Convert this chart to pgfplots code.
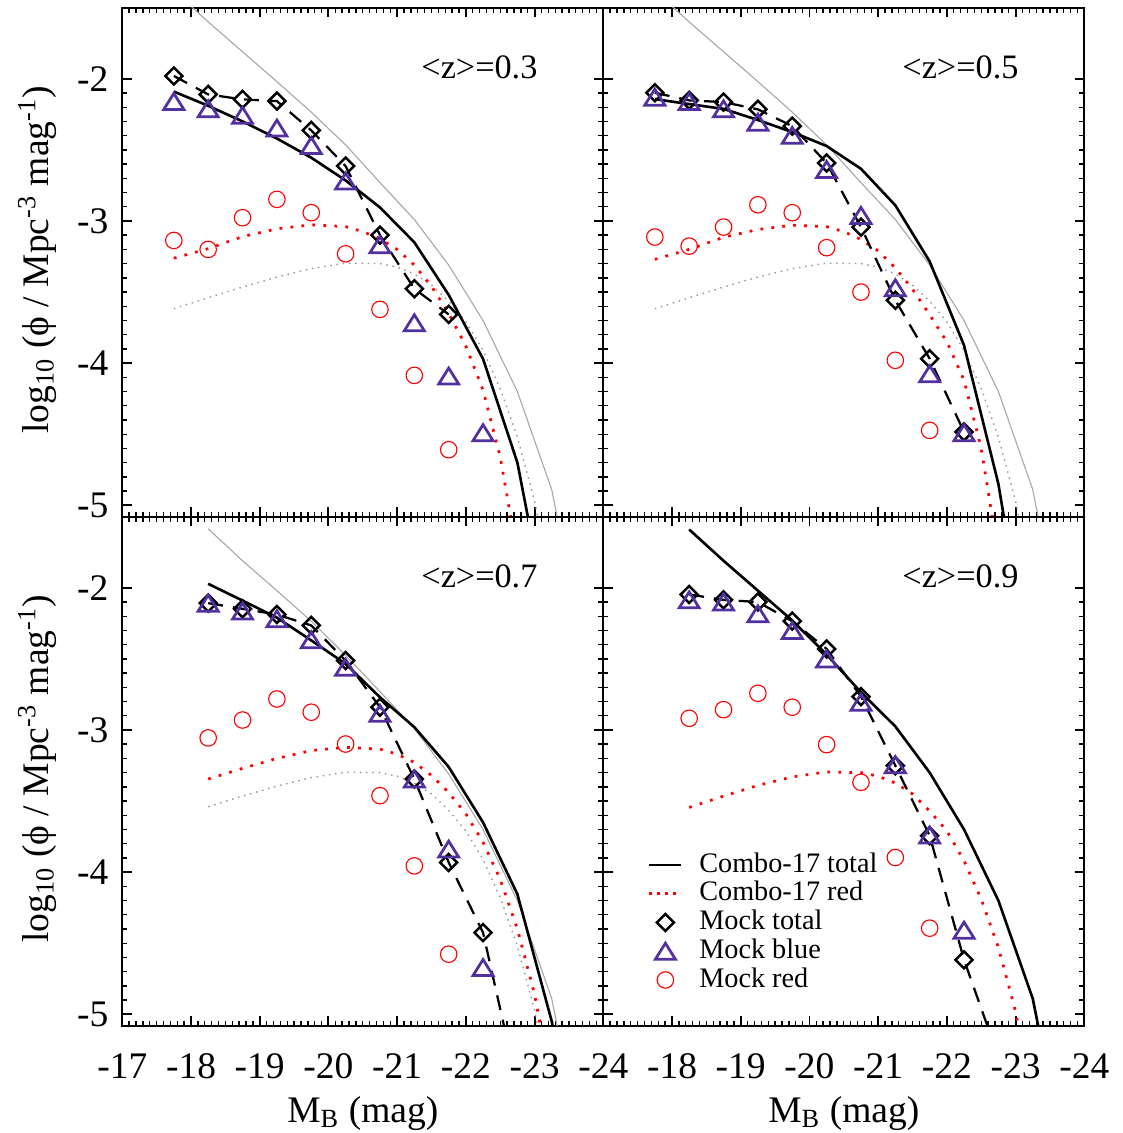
\documentclass[border=0pt]{standalone}
\usepackage{fontspec}
\setmainfont{Liberation Serif}
\usepackage{pgfplots}
\pgfplotsset{compat=1.18}

\definecolor{idlpurple}{RGB}{82,48,160}
\definecolor{lfgray}{RGB}{168,168,168}
\definecolor{lfgraydot}{RGB}{150,150,150}

% open diamond and IDL-style open triangle
\pgfdeclareplotmark{idldiamond}{%
  \pgfpathmoveto{\pgfqpoint{0pt}{\pgfplotmarksize}}%
  \pgfpathlineto{\pgfqpoint{\pgfplotmarksize}{0pt}}%
  \pgfpathlineto{\pgfqpoint{0pt}{-\pgfplotmarksize}}%
  \pgfpathlineto{\pgfqpoint{-\pgfplotmarksize}{0pt}}%
  \pgfpathclose
  \pgfusepathqstroke}
\pgfdeclareplotmark{idltriangle}{%
  \pgfpathmoveto{\pgfqpoint{-\pgfplotmarksize}{-.8\pgfplotmarksize}}%
  \pgfpathlineto{\pgfqpoint{0pt}{.8\pgfplotmarksize}}%
  \pgfpathlineto{\pgfqpoint{\pgfplotmarksize}{-.8\pgfplotmarksize}}%
  \pgfpathclose
  \pgfusepathqstroke}

\tikzset{zlabel/.style={anchor=base east, font=\fontsize{13.7}{16}\selectfont}}

\pgfplotsset{
  lfpanel/.style={
    scale only axis, width=192.4pt, height=203.6pt,
    xmin=-24, xmax=-17, x dir=reverse,
    ymin=-5.08, ymax=-1.5,
    xtick={-17,-18,-19,-20,-21,-22,-23,-24},
    ytick={-2,-3,-4,-5},
    minor x tick num=9, minor y tick num=9,
    tick align=inside, tick pos=both,
    major tick length=3.9pt, minor tick length=2pt,
    every major tick/.style={black, line width=0.75pt},
    every minor tick/.style={black, line width=0.55pt},
    axis line style={line width=0.9pt},
    xticklabels={}, yticklabels={},
    tick label style={font=\fontsize{15}{18}\selectfont},
    xticklabel style={inner sep=0pt, anchor=north, yshift=-11pt},
    yticklabel style={inner sep=0pt, anchor=east, xshift=-5.4pt},
    every axis y label/.style={at={(axis description cs:-0.1538,0.505)}, anchor=base,
      rotate=90, font=\fontsize{15}{18}\selectfont},
    every axis x label/.style={at={(axis description cs:0.5,-0.19)}, anchor=base,
      font=\fontsize{15}{18}\selectfont},
  },
  leftlabels/.style={
    yticklabels={-2,-3,-4,-5},
    ylabel={log\textsubscript{10} (ϕ / Mpc\textsuperscript{-3} mag\textsuperscript{-1})},
  },
  pcombototal/.style={black, line width=1.05pt},
  pcombored/.style={red, line width=1.1pt, dash pattern=on 1.1pt off 3.3pt},
  prefsolid/.style={lfgray, line width=0.45pt},
  prefdot/.style={lfgraydot, line width=0.55pt, dash pattern=on 0.6pt off 1.9pt},
  pmocktotal/.style={black, line width=0.9pt, dash pattern=on 6pt off 4pt,
    mark=idldiamond, mark size=3.4pt, mark options={solid, line width=1pt}},
  pmockblue/.style={only marks, idlpurple, mark=idltriangle, mark size=4pt,
    mark options={line width=1.1pt}},
  pmockred/.style={only marks, red, mark=o, mark size=3.3pt,
    mark options={line width=0.45pt}},
  mylegend/.style={legend image code/.code={\draw[mark repeat=2,mark phase=2,##1]
    plot coordinates {(0pt,0pt) (6.4pt,0pt) (12.8pt,0pt)};}},
}

\begin{document}
\begin{tikzpicture}
\useasboundingbox (0pt,0pt) rectangle (449.2pt,453.2pt);

% ---------------- <z> = 0.3 ----------------
\begin{axis}[lfpanel, leftlabels, at={(48.92pt,246.52pt)}, anchor=south west]
\addplot[prefsolid] coordinates {(-17.75,-1.38) (-18.25,-1.60) (-18.75,-1.81) (-19.25,-2.02) (-19.75,-2.235) (-20.25,-2.465) (-20.75,-2.73) (-21.25,-2.99) (-21.75,-3.31) (-22.25,-3.70) (-22.75,-4.20) (-23.25,-4.89) (-23.75,-6.1)};
\addplot[prefdot] coordinates {(-17.75,-3.617) (-18.25,-3.54) (-18.75,-3.465) (-19.25,-3.395) (-19.75,-3.335) (-20.25,-3.297) (-20.75,-3.30) (-21.0,-3.325) (-21.25,-3.373) (-21.5,-3.45) (-21.75,-3.565) (-22.0,-3.71) (-22.25,-3.91) (-22.5,-4.18) (-22.75,-4.52) (-23.0,-4.97) (-23.25,-5.6)};
\addplot[pcombototal] coordinates {(-17.75,-2.09) (-18.25,-2.19) (-18.75,-2.30) (-19.25,-2.42) (-19.75,-2.555) (-20.25,-2.715) (-20.75,-2.905) (-21.25,-3.15) (-21.75,-3.52) (-22.25,-3.97) (-22.75,-4.70) (-23.25,-5.95)};
\addplot[pcombored] coordinates {(-17.75,-3.262) (-18.25,-3.195) (-18.75,-3.11) (-19.25,-3.055) (-19.75,-3.027) (-20.25,-3.04) (-20.5,-3.075) (-20.75,-3.125) (-21.0,-3.20) (-21.25,-3.31) (-21.5,-3.46) (-21.75,-3.65) (-22.0,-3.88) (-22.25,-4.19) (-22.5,-4.66) (-22.75,-5.35)};
\addplot[pmocktotal] coordinates {(-17.75,-1.98) (-18.25,-2.11) (-18.75,-2.145) (-19.25,-2.157) (-19.75,-2.363) (-20.25,-2.614) (-20.75,-3.10) (-21.25,-3.477) (-21.75,-3.657)};
\addplot[pmockblue] coordinates {(-17.75,-2.159) (-18.25,-2.211) (-18.75,-2.257) (-19.25,-2.347) (-19.75,-2.469) (-20.25,-2.719) (-20.75,-3.167) (-21.25,-3.716) (-21.75,-4.091) (-22.25,-4.489)};
\addplot[pmockred] coordinates {(-17.75,-3.137) (-18.25,-3.20) (-18.75,-2.977) (-19.25,-2.848) (-19.75,-2.942) (-20.25,-3.231) (-20.75,-3.622) (-21.25,-4.086) (-21.75,-4.609)};
\node[zlabel] at (axis cs:-23.17,-2.0) {<z>=0.3};
\end{axis}

% ---------------- <z> = 0.5 ----------------
\begin{axis}[lfpanel, at={(241.32pt,246.52pt)}, anchor=south west]
\addplot[prefsolid] coordinates {(-17.75,-1.38) (-18.25,-1.60) (-18.75,-1.81) (-19.25,-2.02) (-19.75,-2.235) (-20.25,-2.465) (-20.75,-2.73) (-21.25,-2.99) (-21.75,-3.31) (-22.25,-3.70) (-22.75,-4.20) (-23.25,-4.89) (-23.75,-6.1)};
\addplot[prefdot] coordinates {(-17.75,-3.617) (-18.25,-3.54) (-18.75,-3.465) (-19.25,-3.395) (-19.75,-3.335) (-20.25,-3.297) (-20.75,-3.30) (-21.0,-3.325) (-21.25,-3.373) (-21.5,-3.45) (-21.75,-3.565) (-22.0,-3.71) (-22.25,-3.91) (-22.5,-4.18) (-22.75,-4.52) (-23.0,-4.97) (-23.25,-5.6)};
\addplot[pcombototal] coordinates {(-17.75,-2.143) (-18.25,-2.178) (-18.75,-2.212) (-19.25,-2.29) (-19.75,-2.375) (-20.25,-2.473) (-20.75,-2.633) (-21.25,-2.89) (-21.75,-3.285) (-22.25,-3.875) (-22.75,-4.85) (-23.25,-6.3)};
\addplot[pcombored] coordinates {(-17.75,-3.27) (-18.25,-3.20) (-18.75,-3.115) (-19.25,-3.06) (-19.75,-3.03) (-20.25,-3.04) (-20.5,-3.075) (-20.75,-3.13) (-21.0,-3.21) (-21.25,-3.33) (-21.5,-3.48) (-21.75,-3.66) (-22.0,-3.85) (-22.25,-4.12) (-22.5,-4.60) (-22.75,-5.35)};
\addplot[pmocktotal] coordinates {(-17.75,-2.098) (-18.25,-2.152) (-18.75,-2.164) (-19.25,-2.215) (-19.75,-2.333) (-20.25,-2.593) (-20.75,-3.043) (-21.25,-3.558) (-21.75,-3.969) (-22.25,-4.484)};
\addplot[pmockblue] coordinates {(-17.75,-2.129) (-18.25,-2.159) (-18.75,-2.211) (-19.25,-2.305) (-19.75,-2.398) (-20.25,-2.638) (-20.75,-2.961) (-21.25,-3.470) (-21.75,-4.075) (-22.25,-4.489)};
\addplot[pmockred] coordinates {(-17.75,-3.113) (-18.25,-3.177) (-18.75,-3.043) (-19.25,-2.886) (-19.75,-2.942) (-20.25,-3.188) (-20.75,-3.50) (-21.25,-3.98) (-21.75,-4.473)};
\node[zlabel] at (axis cs:-23.17,-2.0) {<z>=0.5};
\end{axis}

% ---------------- <z> = 0.7 ----------------
\begin{axis}[lfpanel, leftlabels, at={(48.92pt,42.92pt)}, anchor=south west,
  xticklabels={-17,-18,-19,-20,-21,-22,-23,-24},
  xlabel={M\textsubscript{B} (mag)}]
\addplot[prefsolid] coordinates {(-18.25,-1.585) (-18.75,-1.81) (-19.25,-2.02) (-19.75,-2.235) (-20.25,-2.475) (-20.75,-2.73) (-21.25,-2.99) (-21.75,-3.31) (-22.25,-3.70) (-22.75,-4.20) (-23.25,-4.89) (-23.75,-6.1)};
\addplot[prefdot] coordinates {(-18.25,-3.54) (-18.75,-3.465) (-19.25,-3.395) (-19.75,-3.335) (-20.25,-3.297) (-20.75,-3.30) (-21.0,-3.325) (-21.25,-3.373) (-21.5,-3.45) (-21.75,-3.565) (-22.0,-3.71) (-22.25,-3.91) (-22.5,-4.18) (-22.75,-4.52) (-23.0,-4.97) (-23.25,-5.6)};
\addplot[pcombototal] coordinates {(-18.25,-1.972) (-18.75,-2.09) (-19.25,-2.21) (-19.75,-2.37) (-20.25,-2.535) (-20.75,-2.77) (-21.25,-2.98) (-21.75,-3.26) (-22.25,-3.65) (-22.75,-4.155) (-23.25,-5.05) (-23.75,-6.3)};
\addplot[pcombored] coordinates {(-18.25,-3.345) (-18.75,-3.27) (-19.25,-3.20) (-19.75,-3.145) (-20.25,-3.122) (-20.75,-3.135) (-21.0,-3.17) (-21.25,-3.228) (-21.5,-3.32) (-21.75,-3.44) (-22.0,-3.59) (-22.25,-3.79) (-22.5,-4.05) (-22.75,-4.40) (-23.0,-4.86) (-23.25,-5.5)};
\addplot[pmocktotal] coordinates {(-18.25,-2.108) (-18.75,-2.148) (-19.25,-2.188) (-19.75,-2.265) (-20.25,-2.512) (-20.75,-2.840) (-21.25,-3.345) (-21.75,-3.932) (-22.25,-4.425) (-22.75,-5.5)};
\addplot[pmockblue] coordinates {(-18.25,-2.108) (-18.75,-2.164) (-19.25,-2.218) (-19.75,-2.366) (-20.25,-2.559) (-20.75,-2.883) (-21.25,-3.345) (-21.75,-3.838) (-22.25,-4.671)};
\addplot[pmockred] coordinates {(-18.25,-3.056) (-18.75,-2.930) (-19.25,-2.782) (-19.75,-2.875) (-20.25,-3.099) (-20.75,-3.462) (-21.25,-3.956) (-21.75,-4.577)};
\node[zlabel] at (axis cs:-23.17,-2.0) {<z>=0.7};
\end{axis}

% ---------------- <z> = 0.9 ----------------
\begin{axis}[lfpanel, at={(241.32pt,42.92pt)}, anchor=south west,
  xticklabels={,-18,-19,-20,-21,-22,-23,-24},
  xlabel={M\textsubscript{B} (mag)},
  legend style={draw=none, fill=none, inner sep=0pt, outer sep=0pt,
    at={(axis description cs:0.093,0.344)}, anchor=north west,
    font=\fontsize{11.3}{13}\selectfont, row sep=0pt,
    nodes={inner sep=0pt, text height=8.6pt, text depth=2.9pt},
    /tikz/every odd column/.append style={column sep=6.6pt}},
  legend cell align=left]
\addlegendimage{black, line width=1.05pt, mylegend}
\addlegendentry{Combo-17 total}
\addlegendimage{red, line width=1.1pt, dash pattern=on 1.1pt off 2.1pt, mylegend}
\addlegendentry{Combo-17 red}
\addlegendimage{only marks, black, mark=idldiamond, mark size=3.4pt, line width=1pt, mylegend}
\addlegendentry{Mock total}
\addlegendimage{only marks, idlpurple, mark=idltriangle, mark size=4pt, line width=1.1pt, mylegend}
\addlegendentry{Mock blue}
\addlegendimage{only marks, red, mark=o, mark size=3.3pt, line width=0.45pt, mylegend}
\addlegendentry{Mock red}
\addplot[pcombototal, forget plot] coordinates {(-18.25,-1.59) (-18.75,-1.81) (-19.25,-2.02) (-19.75,-2.23) (-20.25,-2.47) (-20.75,-2.735) (-21.25,-2.975) (-21.75,-3.30) (-22.25,-3.70) (-22.75,-4.20) (-23.25,-4.89) (-23.75,-6.1)};
\addplot[pcombored, forget plot] coordinates {(-18.25,-3.545) (-18.75,-3.465) (-19.25,-3.39) (-19.75,-3.33) (-20.25,-3.295) (-20.75,-3.30) (-21.0,-3.325) (-21.25,-3.373) (-21.5,-3.45) (-21.75,-3.57) (-22.0,-3.71) (-22.25,-3.92) (-22.5,-4.19) (-22.75,-4.53) (-23.0,-4.98) (-23.25,-5.6)};
\addplot[pmocktotal, forget plot] coordinates {(-18.25,-2.047) (-18.75,-2.085) (-19.25,-2.10) (-19.75,-2.235) (-20.25,-2.43) (-20.75,-2.765) (-21.25,-3.251) (-21.75,-3.744) (-22.25,-4.617) (-22.75,-5.3)};
\addplot[pmockblue, forget plot] coordinates {(-18.25,-2.085) (-18.75,-2.10) (-19.25,-2.183) (-19.75,-2.30) (-20.25,-2.50) (-20.75,-2.805) (-21.25,-3.244) (-21.75,-3.739) (-22.25,-4.408)};
\addplot[pmockred, forget plot] coordinates {(-18.25,-2.918) (-18.75,-2.857) (-19.25,-2.742) (-19.75,-2.840) (-20.25,-3.103) (-20.75,-3.368) (-21.25,-3.897) (-21.75,-4.394) (-22.25,-5.11)};
\node[zlabel] at (axis cs:-23.17,-2.0) {<z>=0.9};
\end{axis}
\end{tikzpicture}
\end{document}
